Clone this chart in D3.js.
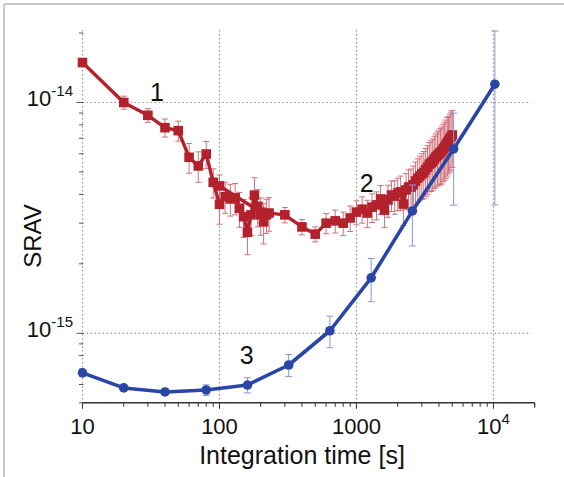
<!DOCTYPE html>
<html>
<head>
<meta charset="utf-8">
<script src="https://cdn.jsdelivr.net/npm/d3@7"></script>
<style>
  body { margin: 0; background: #fff; }
  text { font-family: Arial, "Liberation Sans", Helvetica, sans-serif; fill: #111; }
</style>
</head>
<body>
<div id="chart-container"></div>
<script>
// SRAV vs integration time, three runs (values in units of 1e-15)
const UNIT = 1e-15;

// run 1 : short taus, linear step of 10 s
const tau1 = [10, 20, 30, 40, 50, 60, 70, 80, 90, 100, 110, 120, 130, 140, 150, 160, 170, 180, 190, 200, 210, 220, 230];
const srav1 = [14.9, 10.0, 8.80, 7.78, 7.55, 5.79, 5.31, 5.98, 4.51, 3.62, 3.91, 3.82, 3.86, 3.48, 3.20, 2.74, 3.26, 3.97, 3.54, 3.26, 3.04, 3.26, 3.32];
const err1 = [0.3, 0.65, 0.6, 0.7, 0.75, 0.85, 0.8, 0.8, 0.65, 0.65, 0.6, 0.6, 0.6, 0.6, 0.6, 0.55, 0.6, 0.75, 0.65, 0.6, 0.6, 0.55, 0.55];

// run 2 : step of 100 s
const tau2 = [100, 200, 300, 400, 500, 600, 700, 800, 900, 1000,
              1100, 1200, 1300, 1400, 1500, 1600, 1700, 1800, 1900, 2000,
              2100, 2200, 2300, 2400, 2500, 2600, 2700, 2800, 2900, 3000,
              3100, 3200, 3300, 3400, 3500, 3600, 3700, 3800, 3900, 4000,
              4100, 4200, 4300, 4400, 4500, 4600, 4700, 4800, 4900, 5000];
const srav2 = [4.35, 3.35, 3.26, 2.89, 2.69, 3.00, 3.07, 3.00, 3.16, 3.35,
               3.45, 3.32, 3.52, 3.60, 3.82, 3.42, 3.78, 3.97, 3.93, 4.05,
               4.10, 3.63, 4.18, 4.30, 4.30, 4.40, 4.57, 4.70, 4.80, 4.90,
               4.98, 5.12, 5.25, 5.40, 5.47, 5.55, 5.69, 5.80, 5.90, 5.98,
               6.07, 6.14, 6.29, 6.41, 6.54, 6.70, 6.81, 6.95, 7.09, 7.23];
const err2 = [0.5, 0.35, 0.25, 0.22, 0.2, 0.3, 0.35, 0.35, 0.4, 0.4,
              0.45, 0.45, 0.5, 0.5, 0.55, 0.55, 0.6, 0.6, 0.65, 0.65,
              0.7, 0.7, 0.75, 0.8, 0.85, 0.9, 0.95, 1.0, 1.05, 1.1,
              1.15, 1.2, 1.25, 1.3, 1.35, 1.4, 1.45, 1.5, 1.55, 1.6,
              1.65, 1.7, 1.75, 1.8, 1.85, 1.9, 1.9, 1.95, 2.0, 2.0];

// run 3 : octave spaced
const tau3 = [10, 20, 40, 80, 160, 320, 640, 1280, 2560, 5120, 10240];
const srav3 = [0.674, 0.58, 0.557, 0.568, 0.597, 0.729, 1.026, 1.74, 3.39, 6.29, 12.0];
const err3 = [0.01, 0.01, 0.015, 0.03, 0.045, 0.08, 0.16, 0.37, 1.0, 2.7, 8.4];

const xTickValues = [10, 100, 1000, 10000];
const xTickLabels = [["10", ""], ["100", ""], ["1000", ""], ["10", "4"]];
const yTickValues = [1e-15, 1e-14];
const yTickLabels = [["10", "-15"], ["10", "-14"]];
const curveLabels = [
  { text: "1", tau: 35, val: 1.02e-14 },
  { text: "2", tau: 1186, val: 4.1e-15 },
  { text: "3", tau: 158, val: 7.36e-16 }
];

const red = "#b3222c", redErr = "#d0707a";
const blue = "#2946a6", blueErr = "#8796d6";

const W = 564, H = 477;
const svg = d3.select("#chart-container").append("svg")
    .attr("width", W)
    .attr("height", H);

// frame from the scanned figure
svg.append("line").attr("x1", 4).attr("x2", W).attr("y1", 4).attr("y2", 4)
    .attr("stroke", "#c9c9c9").attr("stroke-width", 2);
svg.append("line").attr("x1", 4).attr("x2", 4).attr("y1", 4).attr("y2", H)
    .attr("stroke", "#c9c9c9").attr("stroke-width", 2);

// Scales
const x = d3.scaleLog().domain([10, 20000]).range([82.5, 534.7]);
const y = d3.scaleLog().domain([5e-16, 2e-14]).range([402.8, 33]);
const x0 = x.range()[0], x1 = x.range()[1];
const yb = y.range()[0];

// grid
const grid = svg.append("g")
    .attr("stroke", "#9a9a9a")
    .attr("stroke-width", 1.2)
    .attr("stroke-dasharray", "1.5,2.5");
grid.selectAll(".vg").data(xTickValues.slice(1)).enter().append("line")
    .attr("x1", d => x(d)).attr("x2", d => x(d))
    .attr("y1", 30).attr("y2", yb + 6);
grid.selectAll(".hg").data(yTickValues).enter().append("line")
    .attr("x1", x0).attr("x2", 531)
    .attr("y1", d => y(d)).attr("y2", d => y(d));
grid.append("line")
    .attr("x1", x0).attr("x2", x0)
    .attr("y1", 30).attr("y2", yb);

// x axis
const xAll = x.ticks().filter(d => d >= 10 && d <= 20000);
const xAxis = svg.append("g").attr("stroke", "#333");
xAxis.append("line")
    .attr("x1", x0).attr("x2", x1)
    .attr("y1", yb).attr("y2", yb)
    .attr("stroke-width", 1.6);
xAxis.selectAll(".xt").data(xAll).enter().append("line")
    .attr("x1", d => x(d)).attr("x2", d => x(d))
    .attr("y1", yb).attr("y2", d => xTickValues.includes(d) ? yb + 6 : yb + 4)
    .attr("stroke-width", 1);
xAxis.append("line")
    .attr("x1", x1).attr("x2", x1).attr("y1", yb).attr("y2", yb + 5);

svg.selectAll(".xl").data(xTickValues).enter().append("text")
    .attr("x", d => x(d))
    .attr("y", 434)
    .attr("text-anchor", "middle")
    .style("font-size", "22px")
    .each(function (d, i) {
        const t = d3.select(this);
        t.append("tspan").text(xTickLabels[i][0]);
        if (xTickLabels[i][1]) t.append("tspan").attr("dy", -10).style("font-size", "15px").text(xTickLabels[i][1]);
    });

// y axis ticks
const yAll = y.ticks().filter(d => d >= 5e-16 && d <= 2.01e-14);
svg.append("g").attr("stroke", "#555")
    .selectAll("line").data(yAll).enter().append("line")
    .attr("x1", d => yTickValues.some(v => Math.abs(v - d) / v < 1e-6) ? x0 - 6 : x0 - 3.5)
    .attr("x2", x0 + 1)
    .attr("y1", d => y(d)).attr("y2", d => y(d))
    .attr("stroke-width", 1);

svg.selectAll(".yl").data(yTickValues).enter().append("text")
    .attr("x", 73)
    .attr("y", d => y(d) + 4)
    .attr("text-anchor", "end")
    .style("font-size", "22px")
    .each(function (d, i) {
        const t = d3.select(this);
        t.append("tspan").text(yTickLabels[i][0]);
        t.append("tspan").attr("dy", -10).style("font-size", "15px").text(yTickLabels[i][1]);
    });

// axis titles
svg.append("text")
    .attr("x", 302)
    .attr("y", 464)
    .attr("text-anchor", "middle")
    .style("font-size", "25px")
    .text("Integration time [s]");

svg.append("text")
    .attr("transform", "translate(41,236) rotate(-90)")
    .attr("text-anchor", "middle")
    .style("font-size", "24px")
    .text("SRAV");

// data
const toPts = (taus, vals, errs) => taus.map((t, i) => ({ tau: t, v: vals[i] * UNIT, e: errs[i] * UNIT }));
const run1 = toPts(tau1, srav1, err1);
const run2 = toPts(tau2, srav2, err2);
const run3 = toPts(tau3, srav3, err3);

const line = d3.line()
    .x(d => x(d.tau))
    .y(d => y(d.v));

function errorBars(data, color, cap) {
    const g = svg.append("g").attr("stroke", color).attr("stroke-width", 1).attr("fill", "none");
    data.forEach(d => {
        const top = y(d.v + d.e), bot = y(d.v - d.e), cx = x(d.tau);
        g.append("line").attr("x1", cx).attr("x2", cx).attr("y1", top).attr("y2", bot);
        g.append("line").attr("x1", cx - cap).attr("x2", cx + cap).attr("y1", top).attr("y2", top);
        g.append("line").attr("x1", cx - cap).attr("x2", cx + cap).attr("y1", bot).attr("y2", bot);
    });
}

// red runs
errorBars(run1, redErr, 3);
errorBars(run2, redErr, 3);
[run1, run2].forEach(run => {
    svg.append("path")
        .datum(run)
        .attr("fill", "none")
        .attr("stroke", red)
        .attr("stroke-width", 3.4)
        .attr("stroke-linejoin", "round")
        .attr("d", line);
    svg.append("g").selectAll("rect").data(run).enter().append("rect")
        .attr("x", d => x(d.tau) - 4.8)
        .attr("y", d => y(d.v) - 4.8)
        .attr("width", 9.6)
        .attr("height", 9.6)
        .attr("fill", red);
});

// blue run
errorBars(run3, blueErr, 3.5);
svg.append("path")
    .datum(run3)
    .attr("fill", "none")
    .attr("stroke", blue)
    .attr("stroke-width", 3.6)
    .attr("stroke-linejoin", "round")
    .attr("d", line);
svg.append("g").selectAll("circle").data(run3).enter().append("circle")
    .attr("cx", d => x(d.tau))
    .attr("cy", d => y(d.v))
    .attr("r", 4.8)
    .attr("fill", blue);

// curve numbers
svg.selectAll(".cl").data(curveLabels).enter().append("text")
    .attr("x", d => x(d.tau))
    .attr("y", d => y(d.val))
    .attr("text-anchor", "middle")
    .style("font-size", "25px")
    .text(d => d.text);
</script>
</body>
</html>
